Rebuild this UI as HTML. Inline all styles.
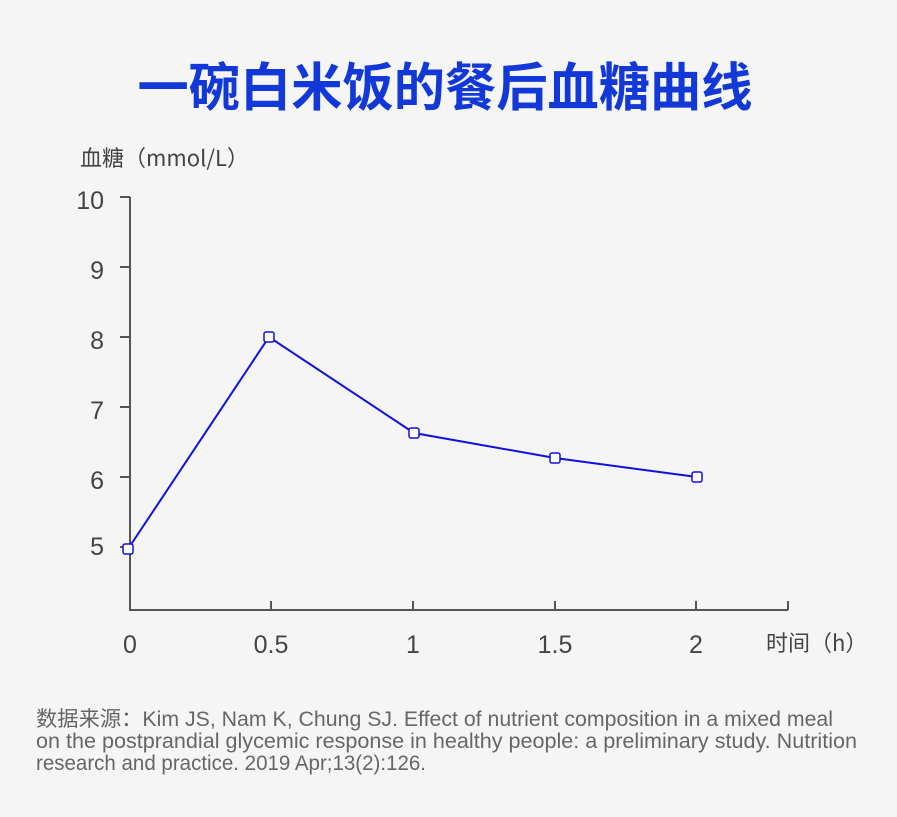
<!DOCTYPE html>
<html><head><meta charset="utf-8"><style>
body{margin:0;background:#f5f5f5;}
svg{display:block}
</style></head><body>
<svg width="897" height="817" xmlns="http://www.w3.org/2000/svg" font-family="Liberation Sans, Noto Sans CJK SC, sans-serif">
<rect width="897" height="817" fill="#f5f5f5"/>
<text x="445" y="106" text-anchor="middle" font-size="52" font-weight="bold" fill="#1238d8" font-family="Noto Sans CJK SC, sans-serif" textLength="615" lengthAdjust="spacingAndGlyphs">一碗白米饭的餐后血糖曲线</text>
<text x="80" y="166" font-size="22" fill="#444" font-family="Noto Sans CJK SC, sans-serif">血糖（mmol/L）</text>
<g stroke="#555" stroke-width="2" fill="none">
<path d="M130 197 V610 H788"/>
<path d="M120 197H130M120 267H130M120 337H130M120 407H130M120 477H130M120 547H130"/>
<path d="M271 601V610M413 601V610M555 601V610M696 601V610M788 601V610M130 601V610"/>
</g>
<g font-size="25" fill="#444" text-anchor="end">
<text x="104" y="209">10</text><text x="104" y="279">9</text><text x="104" y="349">8</text>
<text x="104" y="419">7</text><text x="104" y="489">6</text><text x="104" y="555">5</text>
</g>
<g font-size="25" fill="#444" text-anchor="middle">
<text x="130" y="653">0</text><text x="271" y="653">0.5</text><text x="413" y="653">1</text>
<text x="555" y="653">1.5</text><text x="696" y="653">2</text>
</g>
<text x="766" y="651" font-size="22" fill="#444" font-family="Noto Sans CJK SC, sans-serif">时间（h）</text>
<polyline points="128,549 269,337 414,433 555,458 697,477" fill="none" stroke="#1010e0" stroke-width="2"/>
<g fill="#fff" stroke="#1010e0" stroke-width="1.5">
<rect x="123" y="544" width="10" height="10" rx="2"/>
<rect x="264" y="332" width="10" height="10" rx="2"/>
<rect x="409" y="428" width="10" height="10" rx="2"/>
<rect x="550" y="453" width="10" height="10" rx="2"/>
<rect x="692" y="472" width="10" height="10" rx="2"/>
</g>
<g font-size="21" fill="#666">
<text x="36" y="726" textLength="797" lengthAdjust="spacingAndGlyphs"><tspan font-family="Noto Sans CJK SC, sans-serif">数据来源：</tspan>Kim JS, Nam K, Chung SJ. Effect of nutrient composition in a mixed meal</text>
<text x="36" y="748" textLength="821" lengthAdjust="spacingAndGlyphs">on the postprandial glycemic response in healthy people: a preliminary study. Nutrition</text>
<text x="36" y="770" textLength="390" lengthAdjust="spacingAndGlyphs">research and practice. 2019 Apr;13(2):126.</text>
</g>
</svg>
</body></html>
